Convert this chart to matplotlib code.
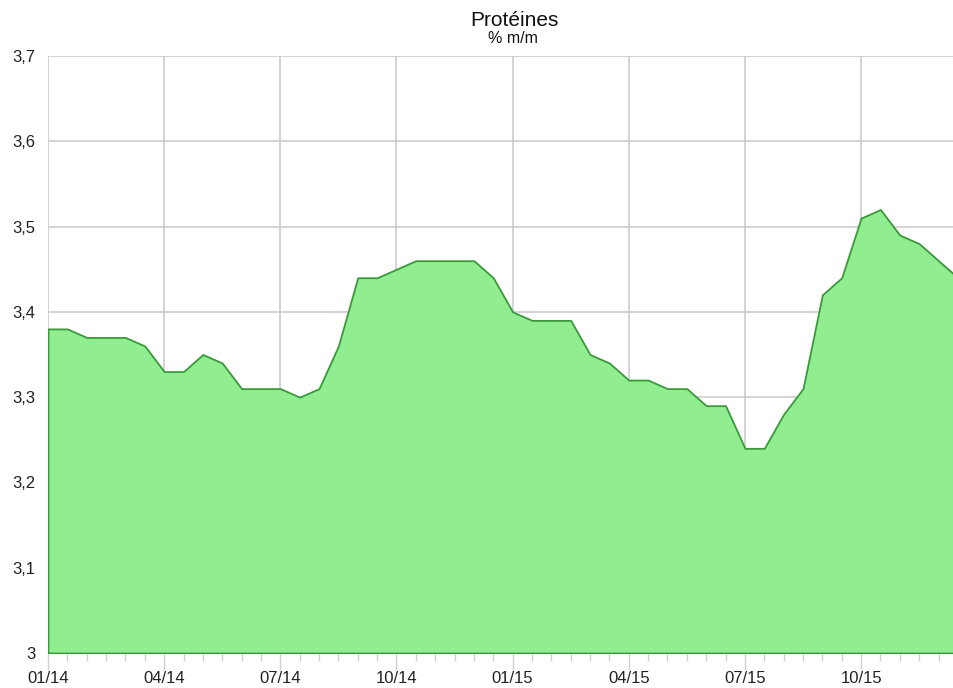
import numpy as np
import matplotlib.pyplot as plt
from matplotlib.ticker import FixedLocator, FuncFormatter

plt.rcParams['font.family'] = ['Liberation Sans', 'DejaVu Sans']

# one value every half month, starting 01/2014
months = np.arange(48) * 0.5
proteines = [3.38, 3.38, 3.37, 3.37, 3.37, 3.36, 3.33, 3.33, 3.35, 3.34,
             3.31, 3.31, 3.31, 3.30, 3.31, 3.36, 3.44, 3.44, 3.45, 3.46,
             3.46, 3.46, 3.46, 3.44, 3.40, 3.39, 3.39, 3.39, 3.35, 3.34,
             3.32, 3.32, 3.31, 3.31, 3.29, 3.29, 3.24, 3.24, 3.28, 3.31,
             3.42, 3.44, 3.51, 3.52, 3.49, 3.48, 3.46, 3.44]
major_months = [0, 3, 6, 9, 12, 15, 18, 21]
major_labels = ['01/14', '04/14', '07/14', '10/14', '01/15', '04/15', '07/15', '10/15']
y_ticks = [3.0, 3.1, 3.2, 3.3, 3.4, 3.5, 3.6, 3.7]

fig = plt.figure(figsize=(9.54, 6.88), dpi=100)
ax = fig.add_axes([48 / 954, 35 / 688, 906 / 954, 597 / 688])

ax.fill_between(months, proteines, 3.0, facecolor='#90ee90',
                edgecolor='#3a9a3a', linewidth=1.3, zorder=3)

ax.set_xlim(0, 23.4)
ax.set_ylim(3.0, 3.7)

ax.xaxis.set_major_locator(FixedLocator(major_months))
ax.set_xticklabels(major_labels)
ax.xaxis.set_minor_locator(FixedLocator(np.arange(0, 23.5, 0.5)))
ax.set_yticks(y_ticks)
ax.yaxis.set_major_formatter(FuncFormatter(
    lambda v, p: '3' if abs(v - 3) < 1e-9 else f'{v:.1f}'.replace('.', ',')))

ax.grid(True, color='#c8c8c8', linewidth=1.1, zorder=0)
ax.set_axisbelow(True)
for s in ax.spines.values():
    s.set_visible(False)

ax.tick_params(axis='x', which='major', length=12, width=1, color='#d0d0d0',
               labelsize=12, pad=1, labelcolor='#222222')
ax.tick_params(axis='x', which='minor', length=5.5, width=1, color='#d0d0d0')
ax.tick_params(axis='y', length=0, labelsize=12, pad=9, labelcolor='#222222')

fig.text(514 / 954, 1 - 26 / 688, 'Protéines', ha='center', va='baseline',
         fontsize=15, color='#111111')
fig.text(513 / 954, 1 - 43 / 688, '% m/m', ha='center', va='baseline',
         fontsize=11.5, color='#111111')

fig.savefig('out.png', dpi=100)
